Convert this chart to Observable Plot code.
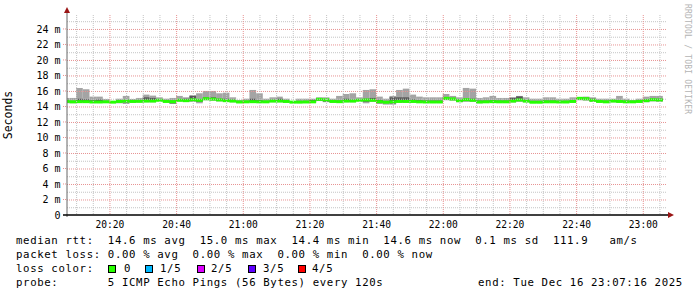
<!DOCTYPE html>
<html><head><meta charset="utf-8">
<script src="https://cdn.jsdelivr.net/npm/d3@7"></script>
<script src="https://cdn.jsdelivr.net/npm/@observablehq/plot@0.6"></script>
<style>
body{margin:0;background:#fff;}
#wrap{position:relative;width:697px;height:297px;overflow:hidden;background:#fff}
#wrap svg{display:block}
.leg{position:absolute;font-family:"DejaVu Sans Mono",monospace;font-size:10.7px;letter-spacing:0.63px;white-space:pre;color:#000;line-height:14px}
.sq{position:absolute;width:6px;height:6px;border:1px solid #000}
</style></head><body><div id="wrap"></div>
<script>
// ---- data (ms) : one sample every 120 s, sample timestamps 20:08 ... 23:06 ----
const firstSampleTime = "2025-12-16T20:08:00Z";
const windowStart = "2025-12-16T20:07:16Z";
const windowEnd = "2025-12-16T23:07:16Z";
const median = [14.66,14.60,14.62,14.62,14.58,14.58,14.60,14.56,14.65,14.70,
  14.65,14.67,14.70,14.70,14.80,14.65,14.62,14.80,14.75,14.86,
  14.80,15.00,14.95,14.85,14.75,14.70,14.58,14.60,14.62,14.60,
  14.60,14.70,14.70,14.65,14.56,14.56,14.58,14.60,14.92,14.85,
  14.65,14.62,14.70,14.70,14.80,14.84,14.80,14.62,14.55,14.60,
  14.65,14.65,14.65,14.60,14.58,14.58,14.58,15.05,14.97,14.75,
  14.88,14.80,14.58,14.60,14.62,14.60,14.60,14.70,14.84,14.70,
  14.55,14.55,14.60,14.60,14.58,14.58,14.65,15.05,15.00,14.80,
  14.65,14.60,14.70,14.65,14.60,14.60,14.65,14.75,14.88,14.84];
const ping1 = [14.42,14.42,14.50,14.50,14.45,14.45,14.50,14.52,14.41,14.32,
  14.50,14.50,14.55,14.55,14.70,14.55,14.32,14.65,14.60,14.60,
  14.41,14.80,14.75,14.65,14.60,14.55,14.45,14.50,14.50,14.50,
  14.50,14.55,14.55,14.50,14.50,14.45,14.45,14.50,14.70,14.55,
  14.50,14.50,14.55,14.55,14.70,14.41,14.60,14.32,14.24,14.24,
  14.50,14.50,14.50,14.50,14.48,14.48,14.48,14.80,14.75,14.55,
  14.60,14.60,14.41,14.48,14.50,14.48,14.48,14.52,14.60,14.55,
  14.45,14.45,14.48,14.48,14.48,14.48,14.50,14.80,14.75,14.60,
  14.50,14.48,14.55,14.50,14.48,14.50,14.50,14.55,14.65,14.60];
const ping2 = [14.55,14.52,14.56,14.56,14.52,14.52,14.55,14.54,14.55,14.55,
  14.58,14.58,14.62,14.62,14.75,14.60,14.41,14.72,14.68,14.70,
  14.62,14.90,14.85,14.75,14.68,14.62,14.52,14.55,14.56,14.55,
  14.55,14.62,14.62,14.58,14.53,14.50,14.52,14.55,14.80,14.65,
  14.58,14.56,14.62,14.62,14.75,14.62,14.70,14.50,14.45,14.40,
  14.56,14.56,14.58,14.55,14.52,14.52,14.52,14.92,14.85,14.62,
  14.72,14.70,14.50,14.54,14.56,14.54,14.54,14.60,14.70,14.62,
  14.50,14.50,14.54,14.54,14.52,14.52,14.58,14.92,14.88,14.70,
  14.58,14.54,14.62,14.58,14.54,14.55,14.58,14.65,14.75,14.72];
const ping4 = [14.76,14.70,15.00,14.92,14.80,14.88,14.70,14.58,14.75,14.80,
  14.72,14.75,15.18,15.10,14.90,14.75,14.75,14.90,15.00,15.35,
  14.95,15.15,15.18,15.00,15.00,14.85,14.65,14.70,15.00,14.80,
  14.70,14.80,15.00,14.75,14.60,14.65,14.70,14.85,15.00,14.95,
  14.75,14.75,15.00,14.85,14.90,15.00,15.10,14.85,14.70,15.18,
  15.18,15.18,14.90,14.80,14.75,14.75,14.75,15.20,15.10,14.85,
  15.00,15.00,14.75,14.75,14.80,14.75,14.75,15.10,15.30,14.85,
  14.70,14.70,14.75,14.75,14.70,14.70,14.80,15.15,15.12,15.00,
  14.75,14.72,14.80,14.80,14.72,14.68,14.75,14.90,15.00,15.00];
const ping5 = [15.10,15.10,16.38,16.22,15.27,15.27,14.97,14.60,15.00,15.36,
  14.97,15.10,15.53,15.40,15.18,15.00,15.10,15.36,15.18,15.48,
  15.70,16.00,16.00,15.70,15.78,15.18,14.84,15.00,16.13,15.70,
  15.00,15.18,15.27,15.00,14.62,15.00,15.00,15.00,15.18,15.18,
  15.00,15.36,15.61,15.70,15.18,16.13,16.22,15.27,15.00,15.36,
  16.13,16.30,15.53,15.27,15.18,15.18,15.18,15.61,15.36,15.18,
  16.39,16.30,15.10,15.18,15.36,15.10,15.10,15.20,15.36,15.18,
  15.00,15.00,15.18,15.18,15.00,15.00,15.18,15.20,15.27,15.18,
  15.00,15.00,15.00,15.36,15.00,14.84,15.00,15.27,15.36,15.36];

const yTicks = [0,2,4,6,8,10,12,14,16,18,20,22,24];
const yTickLabels = ["0","2 m","4 m","6 m","8 m","10 m","12 m","14 m","16 m","18 m","20 m","22 m","24 m"];
const xTickLabels = ["20:20","20:40","21:00","21:20","21:40","22:00","22:20","22:40","23:00"];
const lossLabels = ["0","1/5","2/5","3/5","4/5"];
const lossColors = ["#26ff00","#00b8ff","#dd00ff","#5e00ff","#ff0000"];

const yMax = 25.8;
const plotH = 200;
const stepMs = 120000;
const start = new Date(windowStart), end = new Date(windowEnd);
const t0 = +new Date(firstSampleTime);
const rows = median.map((m, i) => ({
  t1: new Date(Math.max(+start, t0 + (i - 1) * stepMs)),
  t2: new Date(t0 + i * stepMs),
  med: m, p1: ping1[i], p2: ping2[i], p4: ping4[i], p5: ping5[i]
}));
const half = 1.5 * yMax / plotH; // 3px band for median

const parseHM = d3.utcParse("%Y-%m-%d %H:%M");
const xMajor = xTickLabels.map(l => parseHM("2025-12-16 " + l));
const xMinor = d3.utcMinute.every(5).range(start, end).filter(d => d.getUTCMinutes() % 20 !== 0);
const yMinor = d3.range(1, 26).filter(v => v % 2 === 1);

const gridMinor = "#c4c4c4", gridMajor = "#e79393";
const font = "DejaVu Sans Mono";

const chart = Plot.plot({
  width: 697, height: 232,
  marginLeft: 67, marginRight: 30, marginTop: 15, marginBottom: 17,
  x: {type: "utc", domain: [start, end], axis: null},
  y: {domain: [0, yMax], axis: null},
  style: {background: "#fff", fontFamily: font, overflow: "visible"},
  marks: [
    Plot.rectY(rows, {x1: "t1", x2: "t2", y1: "p1", y2: "p5", fill: "#a4a4a4"}),
    Plot.rectY(rows, {x1: "t1", x2: "t2", y1: "p2", y2: "p4", fill: "#585858"}),
    Plot.rectY(rows, {x1: "t1", x2: "t2", y1: d => d.med - half, y2: d => d.med + half, fill: lossColors[0]}),
    Plot.ruleY(yMinor, {stroke: gridMinor, strokeDasharray: "1,1"}),
    Plot.ruleY(yTicks.slice(1), {stroke: gridMajor, strokeDasharray: "1,1"}),
    Plot.ruleX(xMinor, {stroke: gridMinor, strokeDasharray: "1,1"}),
    Plot.ruleX(xMajor, {stroke: gridMajor, strokeDasharray: "1,1"}),
    Plot.text(yTicks, {y: d => d, text: (d, i) => yTickLabels[i], frameAnchor: "left", textAnchor: "end", dx: -7, fontSize: 10, fill: "#000"}),
    Plot.text(xMajor, {x: d => d, text: (d, i) => xTickLabels[i], frameAnchor: "bottom", dy: 9.5, lineAnchor: "middle", fontSize: 9.6, fill: "#000"})
  ]
});

const svg = d3.select(chart);
const xs = chart.scale("x"), ys = chart.scale("y");
const x0 = xs.apply(start), xe = xs.apply(end);
const y0 = ys.apply(0), yT = ys.apply(yMax);
// small grid stubs left of axis
svg.append("g").selectAll("line").data(yTicks.slice(1)).join("line")
  .attr("x1", x0 - 4).attr("x2", x0).attr("y1", d => ys.apply(d)).attr("y2", d => ys.apply(d))
  .attr("stroke", gridMajor).attr("stroke-dasharray", "1,1");
svg.append("line").attr("x1", x0).attr("x2", x0).attr("y1", y0 + 2).attr("y2", yT - 3)
  .attr("stroke", "#666").attr("stroke-width", 1);
svg.append("line").attr("x1", x0 - 4).attr("x2", xe + 2).attr("y1", y0).attr("y2", y0)
  .attr("stroke", "#000").attr("stroke-width", 1.4);
svg.append("path").attr("d", `M${xe + 1},${y0 - 3}L${xe + 7},${y0}L${xe + 1},${y0 + 3}Z`).attr("fill", "#9a1515");
svg.append("path").attr("d", `M${x0 - 3},${yT - 2}L${x0},${yT - 8}L${x0 + 3},${yT - 2}Z`).attr("fill", "#9a1515");
svg.append("text").attr("transform", `translate(12,${(y0 + yT) / 2}) rotate(-90)`)
  .attr("text-anchor", "middle").attr("font-family", font).attr("font-size", 11.5).attr("fill", "#000").text("Seconds");
svg.append("text").attr("transform", `translate(685,4) rotate(90)`)
  .attr("text-anchor", "start").attr("font-family", font).attr("font-size", 8).attr("letter-spacing", 0.2)
  .attr("fill", "#b4b4b4").text("RRDTOOL / TOBI OETIKER");

const wrap = document.getElementById("wrap");
wrap.appendChild(chart);

function leg(text, left, top) {
  const d = document.createElement("div");
  d.className = "leg"; d.textContent = text;
  d.style.left = left + "px"; d.style.top = top + "px";
  wrap.appendChild(d); return d;
}
leg("median rtt:  14.6 ms avg  15.0 ms max  14.4 ms min  14.6 ms now  0.1 ms sd  111.9   am/s", 16, 233.8);
leg("packet loss: 0.00 % avg  0.00 % max  0.00 % min  0.00 % now", 16, 247.8);
leg("loss color:", 16, 261.8);
const sqX = [108, 145, 197, 248, 298], lblX = [124, 160, 211, 263, 312];
lossLabels.forEach((l, i) => {
  const s = document.createElement("div");
  s.className = "sq"; s.style.left = sqX[i] + "px"; s.style.top = "264.5px"; s.style.background = lossColors[i];
  wrap.appendChild(s);
  leg(l, lblX[i], 261.8);
});
leg("probe:       5 ICMP Echo Pings (56 Bytes) every 120s", 16, 275.8);
leg("end: Tue Dec 16 23:07:16 2025", 478, 275.8);
</script></body></html>
